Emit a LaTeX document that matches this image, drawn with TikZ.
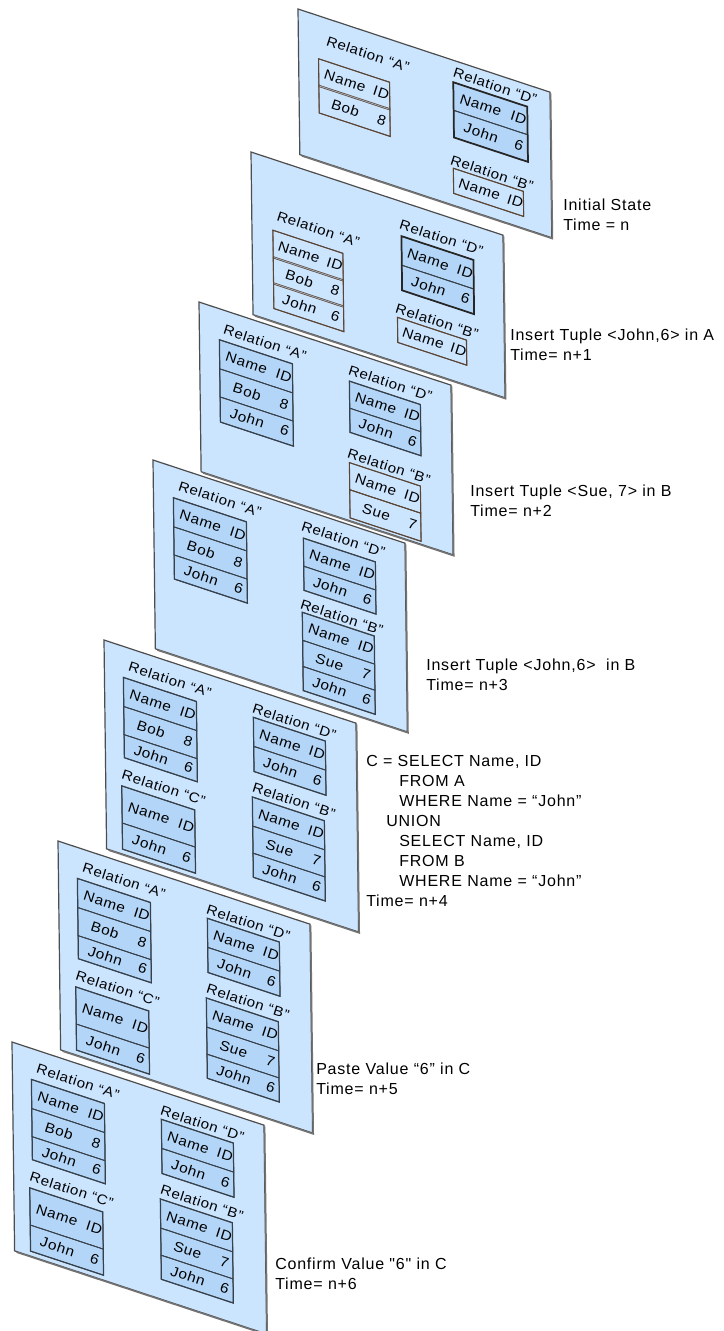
\documentclass[tikz,border=0pt]{standalone}
\usepackage{fontspec}
\setmainfont{Liberation Sans}
\newfontfamily\pfont[LetterSpace=4, FakeSlant=0.3]{Liberation Sans}
\newfontfamily\cfont[LetterSpace=5]{Liberation Sans}
\definecolor{panelbg}{HTML}{CCE5FF}
\definecolor{tabbg}{HTML}{B3D6F8}
\definecolor{panelln}{HTML}{4D4D4D}
\definecolor{brownln}{HTML}{5B4636}
\definecolor{tabln}{HTML}{37414B}
\tikzset{
  panelat/.style={shift={#1}, yslant=-0.33, xslant=-0.0125},
  panelbox/.style={fill=panelbg, draw=panelln, line width=0.9pt},
  panelhalo/.style={draw=white, line width=3pt},
  panelshade/.style={draw=black!55, line width=1.2pt},
  prow/.style={draw=brownln, line width=0.6pt},
  psep/.style={draw=brownln, line width=0.5pt, double=brownln!35!panelbg, double distance=0.6pt},
  pframe/.style={draw=brownln, line width=0.8pt},
  qrow/.style={draw=brownln, line width=0.6pt},
  qsep/.style={draw=brownln, line width=0.7pt},
  qframe/.style={draw=brownln, line width=0.8pt},
  frow/.style={fill=tabbg, draw=tabln, line width=0.6pt},
  fsep/.style={draw=tabln, line width=0.6pt},
  fframe/.style={draw=tabln, line width=0.9pt},
  drow/.style={fill=tabbg, draw=tabln, line width=0.6pt},
  dsep/.style={draw=tabln, line width=0.6pt},
  dframe/.style={draw=black!85, line width=1.3pt},
  cell/.style={anchor=base, inner sep=0pt, transform shape, font=\pfont\fontsize{11}{12}\selectfont},
  rlabel/.style={anchor=base west, inner sep=0pt, transform shape, font=\pfont\fontsize{10.8}{12}\selectfont},
  caption/.style={anchor=north west, inner sep=0pt, align=left, font=\cfont\fontsize{12}{15}\selectfont},
}
% #1 name, #2 u, #3 v, #4 width, #5 height, #6 style prefix, #7 rows top/bottom/left/right
\newcommand\rtab[7]{%
  \begin{scope}[shift={(#2,#3)}]
    \foreach \t/\b/\l/\r [count=\i] in {#7} {
      \path[#6row] (0,\t) rectangle (#4,\b);
      \ifnum\i>1 \draw[#6sep] (0,\t) -- (#4,\t);\fi
      \node[cell] (#1-\i-n) at ({0.35*#4},{(\t+\b)/2+5}) {\l};
      \node[cell] (#1-\i-v) at ({0.86*#4},{(\t+\b)/2+5}) {\r};
    }
    \draw[#6frame] (0,0) rectangle (#4,#5);
  \end{scope}}
\newcommand\panelrect[1]{%
  \draw[panelhalo] (0,0) rectangle (252,#1);
  \draw[panelbox] (0,0) rectangle (252,#1);
  \draw[panelshade] (252.6,1) -- (252.6,#1+0.6) -- (2,#1+0.6);}
\newcommand\lowerpanel[1]{%
  \begin{scope}[panelat={#1}]
    \panelrect{208}
    \node[rlabel] at (23,23) {Relation “A”};
    \rtab{A}{19}{31}{73}{80}{f}{0/29/Name/ID, 29/57/Bob/8, 57/80/John/6}
    \node[rlabel] at (15,133) {Relation “C”};
    \rtab{C}{16}{140}{73}{63}{f}{0/37/Name/ID, 37/63/John/6}
    \node[rlabel] at (147,24) {Relation “D”};
    \rtab{D}{149}{28}{72}{54}{f}{0/29/Name/ID, 29/54/John/6}
    \node[rlabel] at (146,103) {Relation “B”};
    \rtab{B}{147}{108}{72}{80}{f}{0/29/Name/ID, 29/56/Sue/7, 56/80/John/6}
  \end{scope}}
\begin{document}
\begin{tikzpicture}[x=0.75pt, y=-0.75pt]
\useasboundingbox[fill=white] (0,0) rectangle (724,1331);
% Panel 1
\begin{scope}[panelat={(298,9)}]
  \panelrect{145}
  \node[rlabel] (p1la) at (27,27) {Relation “A”};
  \rtab{p1A}{20}{43}{71}{54}{p}{0/27/Name/ID, 27/54/Bob/8}
  \node[rlabel] (p1ld) at (154,17) {Relation “D”};
  \rtab{p1D}{155}{22}{74}{55}{d}{0/28/Name/ID, 28/55/John/6}
  \node[rlabel] (p1lb) at (150,105) {Relation “B”};
  \rtab{p1B}{154}{108}{70}{25}{p}{0/25/Name/ID}
\end{scope}
\node[caption] (c1) at (563,199) {Initial State\\Time = n};
% Panel 2
\begin{scope}[panelat={(251,152)}]
  \panelrect{162}
  \node[rlabel] (p2la) at (24,60) {Relation “A”};
  \rtab{p2A}{21}{71}{70}{78}{p}{0/27/Name/ID, 27/53/Bob/8, 53/78/John/6}
  \node[rlabel] (p2ld) at (147,28) {Relation “D”};
  \rtab{p2D}{150}{34.5}{72}{54}{d}{0/29/Name/ID, 29/54/John/6}
  \node[rlabel] (p2lb) at (142,113) {Relation “B”};
  \rtab{p2B}{145}{117}{69}{25}{p}{0/25/Name/ID}
\end{scope}
\node[caption] (c2) at (510,329) {Insert Tuple <John,6> in A\\Time= n+1};
% Panel 3
\begin{scope}[panelat={(199,302)}]
  \panelrect{169}
  \node[rlabel] (p3la) at (23,24) {Relation “A”};
  \rtab{p3A}{20}{31}{73}{82}{f}{0/29/Name/ID, 29/57/Bob/8, 57/82/John/6}
  \node[rlabel] (p3ld) at (148,23) {Relation “D”};
  \rtab{p3D}{150}{29.5}{71}{51}{f}{0/27/Name/ID, 27/51/John/6}
  \node[rlabel] (p3lb) at (146,107) {Relation “B”};
  \rtab{p3B}{149}{111}{71}{55}{q}{0/27/Name/ID, 27/55/Sue/7}
\end{scope}
\node[caption] (c3) at (470,485) {Insert Tuple <Sue, 7> in B\\Time= n+2};
% Panel 4
\begin{scope}[panelat={(153,460)}]
  \panelrect{188}
  \node[rlabel] (p4la) at (24,22) {Relation “A”};
  \rtab{p4A}{20}{31}{73}{81}{f}{0/29/Name/ID, 29/57/Bob/8, 57/81/John/6}
  \node[rlabel] (p4ld) at (147,21.5) {Relation “D”};
  \rtab{p4D}{150}{28.5}{72}{52}{f}{0/28/Name/ID, 28/52/John/6}
  \node[rlabel] (p4lb) at (145,100) {Relation “B”};
  \rtab{p4B}{148}{103}{72}{78}{f}{0/28/Name/ID, 28/54/Sue/7, 54/78/John/6}
\end{scope}
\node[caption] (c4) at (426,659) {Insert Tuple <John,6>\ \ in B\\Time= n+3};
% Panels 5-7
\lowerpanel{(104,640)}
\node[caption] (c5) at (366,755) {C = SELECT Name, ID\\
\hspace*{24.75pt}FROM A\\
\hspace*{24.75pt}WHERE Name = “John”\\
\hspace*{15pt}UNION\\
\hspace*{24.75pt}SELECT Name, ID\\
\hspace*{24.75pt}FROM B\\
\hspace*{24.75pt}WHERE Name = “John”\\
Time= n+4};
\lowerpanel{(58,841)}
\node[caption] (c6) at (316,1063) {Paste Value “6” in C\\Time= n+5};
\lowerpanel{(12,1042)}
\node[caption] (c7) at (275,1258) {Confirm Value "6" in C\\Time= n+6};
\end{tikzpicture}
\end{document}
